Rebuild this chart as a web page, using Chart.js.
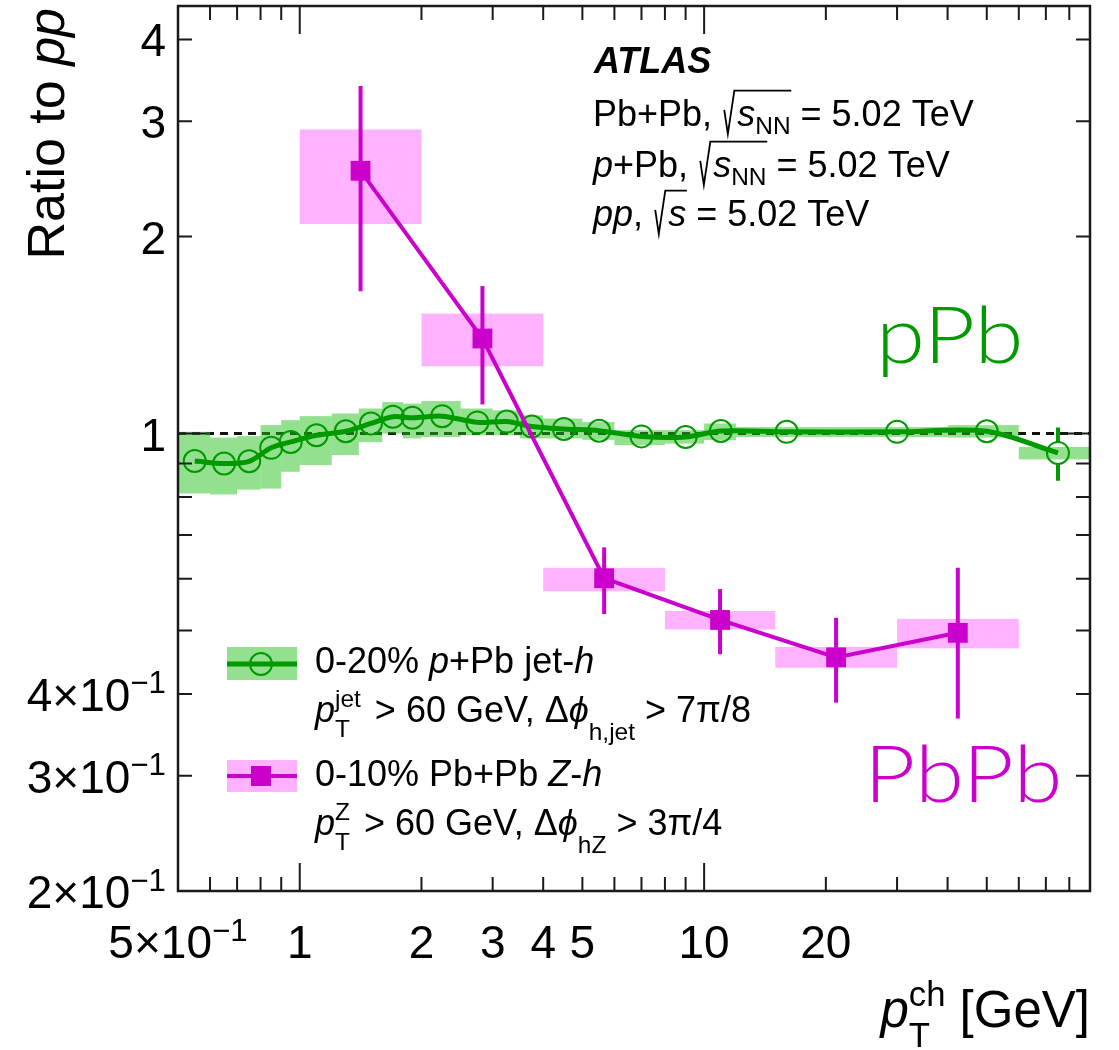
<!DOCTYPE html>
<html>
<head>
<meta charset="utf-8">
<script src="https://cdn.jsdelivr.net/npm/chart.js@4.4.1/dist/chart.umd.min.js"></script>
<style>
  html, body { margin: 0; padding: 0; background: #fff; }
  canvas { display: block; }
</style>
</head>
<body>
<canvas id="ratioChart" width="1119" height="1050"></canvas>
<script>
// 0-20% p+Pb jet-h : bin edges, centres, ratio, systematic band, stat error
const pPbLow  = [0.5, 0.6, 0.7, 0.8, 0.9, 1.0, 1.2, 1.4, 1.6, 1.8, 2.0, 2.5, 3.0, 3.5, 4, 5, 6, 8, 10, 12, 20, 40, 60];
const pPbHigh = [0.6, 0.7, 0.8, 0.9, 1.0, 1.2, 1.4, 1.6, 1.8, 2.0, 2.5, 3.0, 3.5, 4, 5, 6, 8, 10, 12, 20, 40, 60, 90];
const pPbPt   = [0.55, 0.65, 0.75, 0.85, 0.95, 1.1, 1.3, 1.5, 1.7, 1.9, 2.25, 2.75, 3.25, 3.75, 4.5, 5.5, 7, 9, 11, 16, 30, 50, 75];
const pPbRatio = [0.908, 0.900, 0.907, 0.951, 0.971, 0.994, 1.008, 1.036, 1.061, 1.057, 1.063, 1.040, 1.043, 1.025, 1.016, 1.010, 0.990, 0.988, 1.009, 1.006, 1.006, 1.008, 0.934];
const pPbSysUp   = [1.006, 0.986, 0.991, 1.030, 1.048, 1.063, 1.073, 1.092, 1.117, 1.111, 1.121, 1.092, 1.085, 1.066, 1.054, 1.041, 1.012, 1.012, 1.036, 1.023, 1.023, 1.030, 0.954];
const pPbSysDown = [0.810, 0.807, 0.821, 0.824, 0.874, 0.895, 0.927, 0.970, 1.000, 0.983, 0.988, 0.994, 0.994, 0.983, 0.983, 0.978, 0.960, 0.965, 0.977, 0.988, 0.988, 0.986, 0.913];
const pPbStat = [0.004, 0.004, 0.004, 0.004, 0.004, 0.004, 0.004, 0.004, 0.004, 0.004, 0.004, 0.004, 0.004, 0.004, 0.004, 0.004, 0.005, 0.005, 0.006, 0.006, 0.008, 0.015, 0.087];

// 0-10% Pb+Pb Z-h
const pbLow  = [1, 2, 4, 8, 15, 30];
const pbHigh = [2, 4, 8, 15, 30, 60];
const pbPt   = [1.414, 2.83, 5.66, 10.95, 21.2, 42.4];
const pbRatio = [2.52, 1.397, 0.601, 0.519, 0.455, 0.496];
const pbStatUp   = [3.395, 1.68, 0.670, 0.5785, 0.523, 0.6235];
const pbStatDown = [1.649, 1.108, 0.530, 0.460, 0.388, 0.367];
const pbSysUp    = [2.915, 1.525, 0.6235, 0.5355, 0.472, 0.521];
const pbSysDown  = [2.09, 1.267, 0.574, 0.502, 0.4386, 0.4696];

// Axis labels
const xLabelVals = [0.5, 1, 2, 3, 4, 5, 10, 20];
const xLabelText = ['5×10^−1', '1', '2', '3', '4', '5', '10', '20'];
const yLabelVals = [0.2, 0.3, 0.4, 1, 2, 3, 4];
const yLabelText = ['2×10^−1', '3×10^−1', '4×10^−1', '1', '2', '3', '4'];

const GREEN = '#009a00';
const MAGENTA = '#cc00cc';
const FAM = '"Liberation Sans", Arial, Helvetica, sans-serif';

function setFont(ctx, size, italic, bold) {
    ctx.font = (italic ? 'italic ' : '') + (bold ? 'bold ' : '') + size + 'px ' + FAM;
}

// small rich-text helper: strings, {t,i,b}, {sup,sub}, {sqrt:[...]}
function rich(ctx, parts, x, y, size, draw) {
    let cx = x;
    parts.forEach(p => {
        if (typeof p === 'string') p = { t: p };
        if (p.t !== undefined) {
            setFont(ctx, size, p.i, p.b);
            if (draw) ctx.fillText(p.t, cx, y);
            cx += ctx.measureText(p.t).width;
        } else if (p.sqrt) {
            const x0 = cx;
            cx += size * 0.42;
            const end = rich(ctx, p.sqrt, cx, y, size, draw);
            if (draw) {
                ctx.save();
                ctx.lineWidth = size * 0.05;
                ctx.strokeStyle = ctx.fillStyle;
                ctx.beginPath();
                ctx.moveTo(x0 + size * 0.06, y - size * 0.45);
                ctx.lineTo(x0 + size * 0.16, y + size * 0.22);
                ctx.lineTo(x0 + size * 0.34, y - size * 0.98);
                ctx.lineTo(end + size * 0.02, y - size * 0.98);
                ctx.stroke();
                ctx.restore();
            }
            cx = end;
        } else {
            const s = size * 0.68;
            let w = 0;
            if (p.sup !== undefined) {
                setFont(ctx, s, false);
                if (draw) ctx.fillText(p.sup, cx, y - size * (p.supDy || 0.42));
                w = Math.max(w, ctx.measureText(p.sup).width);
            }
            if (p.sub !== undefined) {
                setFont(ctx, s, false);
                if (draw) ctx.fillText(p.sub, cx, y + size * (p.subDy || 0.3));
                w = Math.max(w, ctx.measureText(p.sub).width);
            }
            cx += w + (p.gap || 0);
        }
    });
    return cx;
}

function labelParts(txt) {
    const bits = txt.split('^');
    return bits.length > 1 ? [bits[0], { sup: bits[1], supDy: 0.38 }] : [bits[0]];
}

function drawBoxes(ctx, xs, ys, lo, hi, down, up, color) {
    ctx.fillStyle = color;
    lo.forEach((l, i) => {
        const x0 = xs.getPixelForValue(l);
        const x1 = xs.getPixelForValue(hi[i]);
        const y0 = ys.getPixelForValue(up[i]);
        const y1 = ys.getPixelForValue(down[i]);
        ctx.fillRect(x0, y0, x1 - x0, y1 - y0);
    });
}

const atlasPlugin = {
    id: 'atlasPlugin',
    beforeDatasetsDraw(chart) {
        const { ctx, chartArea: a, scales: { x, y } } = chart;
        ctx.save();
        // dashed line at unity
        const y1 = y.getPixelForValue(1);
        ctx.strokeStyle = '#111';
        ctx.lineWidth = 3;
        ctx.setLineDash([8, 6]);
        ctx.beginPath();
        ctx.moveTo(a.left, y1);
        ctx.lineTo(a.right, y1);
        ctx.stroke();
        ctx.setLineDash([]);
        drawBoxes(ctx, x, y, pPbLow, pPbHigh, pPbSysDown, pPbSysUp, 'rgba(40, 195, 30, 0.5)');
        drawBoxes(ctx, x, y, pbLow, pbHigh, pbSysDown, pbSysUp, 'rgba(255, 0, 255, 0.3)');
        ctx.restore();
    },
    afterDatasetsDraw(chart) {
        const { ctx, scales: { x, y } } = chart;
        ctx.save();
        // Pb+Pb stat errors
        ctx.strokeStyle = MAGENTA;
        ctx.lineWidth = 4;
        pbPt.forEach((pt, i) => {
            const px = x.getPixelForValue(pt);
            ctx.beginPath();
            ctx.moveTo(px, y.getPixelForValue(pbStatUp[i]));
            ctx.lineTo(px, y.getPixelForValue(pbStatDown[i]));
            ctx.stroke();
        });
        // p+Pb stat errors, only outside the marker
        ctx.strokeStyle = GREEN;
        pPbPt.forEach((pt, i) => {
            const px = x.getPixelForValue(pt);
            const pc = y.getPixelForValue(pPbRatio[i]);
            const pu = y.getPixelForValue(pPbRatio[i] + pPbStat[i]);
            const pd = y.getPixelForValue(pPbRatio[i] - pPbStat[i]);
            if (pc - pu > 11) {
                ctx.beginPath();
                ctx.moveTo(px, pu); ctx.lineTo(px, pc - 11);
                ctx.moveTo(px, pc + 11); ctx.lineTo(px, pd);
                ctx.stroke();
            }
        });
        ctx.restore();
    },
    afterDraw(chart) {
        const { ctx, chartArea: a, scales: { x, y } } = chart;
        ctx.save();
        ctx.textAlign = 'left';
        ctx.textBaseline = 'alphabetic';

        // frame
        ctx.strokeStyle = '#1a1a1a';
        ctx.lineWidth = 2.5;
        ctx.strokeRect(a.left, a.top, a.right - a.left, a.bottom - a.top);

        // ticks
        ctx.lineWidth = 2;
        ctx.beginPath();
        for (let d = -1; d <= 1; d++) {
            for (let m = 1; m <= 9; m++) {
                const v = m * Math.pow(10, d);
                const len = m === 1 ? 28 : 14;
                if (v > 0.5 && v < 90) {
                    const px = x.getPixelForValue(v);
                    ctx.moveTo(px, a.bottom); ctx.lineTo(px, a.bottom - len);
                    ctx.moveTo(px, a.top); ctx.lineTo(px, a.top + len);
                }
                if (v > 0.2 && v < 4.5) {
                    const py = y.getPixelForValue(v);
                    ctx.moveTo(a.left, py); ctx.lineTo(a.left + len, py);
                    ctx.moveTo(a.right, py); ctx.lineTo(a.right - len, py);
                }
            }
        }
        ctx.stroke();

        ctx.fillStyle = '#000';
        // x tick labels
        xLabelVals.forEach((v, i) => {
            const parts = labelParts(xLabelText[i]);
            const w = rich(ctx, parts, 0, 0, 46, false);
            rich(ctx, parts, x.getPixelForValue(v) - w / 2, 958, 46, true);
        });
        // y tick labels
        yLabelVals.forEach((v, i) => {
            const parts = labelParts(yLabelText[i]);
            const w = rich(ctx, parts, 0, 0, 46, false);
            rich(ctx, parts, 166 - w, y.getPixelForValue(v) + 17, 46, true);
        });

        // axis titles
        const xt = [{ t: 'p', i: true }, { sup: 'ch', sub: 'T', subDy: 0.4 }, ' [GeV]'];
        const xw = rich(ctx, xt, 0, 0, 51, false);
        rich(ctx, xt, a.right - xw, 1027, 51, true);

        const yt = ['Ratio to ', { t: 'pp', i: true }];
        ctx.save();
        ctx.translate(64, 8);
        ctx.rotate(-Math.PI / 2);
        const yw = rich(ctx, yt, 0, 0, 52, false);
        rich(ctx, yt, -yw, 0, 52, true);
        ctx.restore();

        // ATLAS header
        const sNN = { sqrt: [{ t: 's', i: true }, { sub: 'NN', subDy: 0.22 }] };
        rich(ctx, [{ t: 'ATLAS', i: true, b: true }], 594, 73, 36, true);
        rich(ctx, ['Pb+Pb, ', sNN, ' = 5.02 TeV'], 593, 126, 36, true);
        rich(ctx, [{ t: 'p', i: true }, '+Pb, ', sNN, ' = 5.02 TeV'], 593, 177, 36, true);
        rich(ctx, [{ t: 'pp', i: true }, ', ', { sqrt: [{ t: 's', i: true }] }, ' = 5.02 TeV'], 593, 226, 36, true);

        // legend
        ctx.fillStyle = 'rgba(40, 195, 30, 0.5)';
        ctx.fillRect(227, 647, 70, 33);
        ctx.strokeStyle = GREEN;
        ctx.lineWidth = 5;
        ctx.beginPath(); ctx.moveTo(227, 664); ctx.lineTo(297, 664); ctx.stroke();
        ctx.lineWidth = 2;
        ctx.beginPath(); ctx.arc(261, 664, 11, 0, Math.PI * 2); ctx.stroke();

        ctx.fillStyle = 'rgba(255, 0, 255, 0.3)';
        ctx.fillRect(227, 760, 70, 32);
        ctx.strokeStyle = MAGENTA;
        ctx.lineWidth = 4;
        ctx.beginPath(); ctx.moveTo(227, 776); ctx.lineTo(297, 776); ctx.stroke();
        ctx.fillStyle = MAGENTA;
        ctx.fillRect(251, 766, 20, 20);

        ctx.fillStyle = '#000';
        const phi = { t: 'ϕ', i: true };
        rich(ctx, ['0-20% ', { t: 'p', i: true }, '+Pb jet-', { t: 'h', i: true }], 315, 673, 36, true);
        rich(ctx, [{ t: 'p', i: true }, { sup: 'jet', sub: 'T', subDy: 0.42, gap: 4 }, ' > 60 GeV, Δ', phi,
            { sub: 'h,jet', subDy: 0.5 }, ' > 7π/8'], 315, 722, 36, true);
        rich(ctx, ['0-10% Pb+Pb ', { t: 'Z', i: true }, '-', { t: 'h', i: true }], 315, 786, 36, true);
        rich(ctx, [{ t: 'p', i: true }, { sup: 'Z', sub: 'T', subDy: 0.42, gap: 4 }, ' > 60 GeV, Δ', phi,
            { sub: 'hZ', subDy: 0.5 }, ' > 3π/4'], 315, 835, 36, true);

        // system labels, slightly widened
        ctx.font = '300 78px Lato, "Open Sans", sans-serif';
        ctx.save();
        ctx.translate(876, 363);
        ctx.scale(1.14, 1);
        ctx.fillStyle = GREEN;
        ctx.fillText('pPb', 0, 0);
        ctx.restore();
        ctx.save();
        ctx.translate(864, 802);
        ctx.scale(1.14, 1);
        ctx.fillStyle = MAGENTA;
        ctx.fillText('PbPb', 0, 0);
        ctx.restore();

        ctx.restore();
    }
};

new Chart(document.getElementById('ratioChart'), {
    type: 'line',
    data: {
        datasets: [
            {
                label: '0-10% Pb+Pb Z-h',
                data: pbPt.map((pt, i) => ({ x: pt, y: pbRatio[i] })),
                borderColor: MAGENTA,
                borderWidth: 4,
                tension: 0,
                pointStyle: 'rect',
                pointRadius: 14,
                pointBackgroundColor: MAGENTA,
                pointBorderColor: MAGENTA,
                pointBorderWidth: 0,
                order: 0
            },
            {
                label: '0-20% p+Pb jet-h',
                data: pPbPt.map((pt, i) => ({ x: pt, y: pPbRatio[i] })),
                borderColor: GREEN,
                borderWidth: 5,
                tension: 0.3,
                pointStyle: 'circle',
                pointRadius: 11,
                pointBackgroundColor: 'rgba(0, 0, 0, 0)',
                pointBorderColor: GREEN,
                pointBorderWidth: 2,
                order: 1
            }
        ]
    },
    options: {
        responsive: false,
        animation: false,
        layout: {
            autoPadding: false,
            padding: { left: 178, right: 29, top: 6, bottom: 159 }
        },
        scales: {
            x: { type: 'logarithmic', min: 0.5, max: 90, display: false },
            y: { type: 'logarithmic', min: 0.2, max: 4.5, display: false }
        },
        plugins: {
            legend: { display: false },
            tooltip: { enabled: false }
        }
    },
    plugins: [atlasPlugin]
});
</script>
</body>
</html>
